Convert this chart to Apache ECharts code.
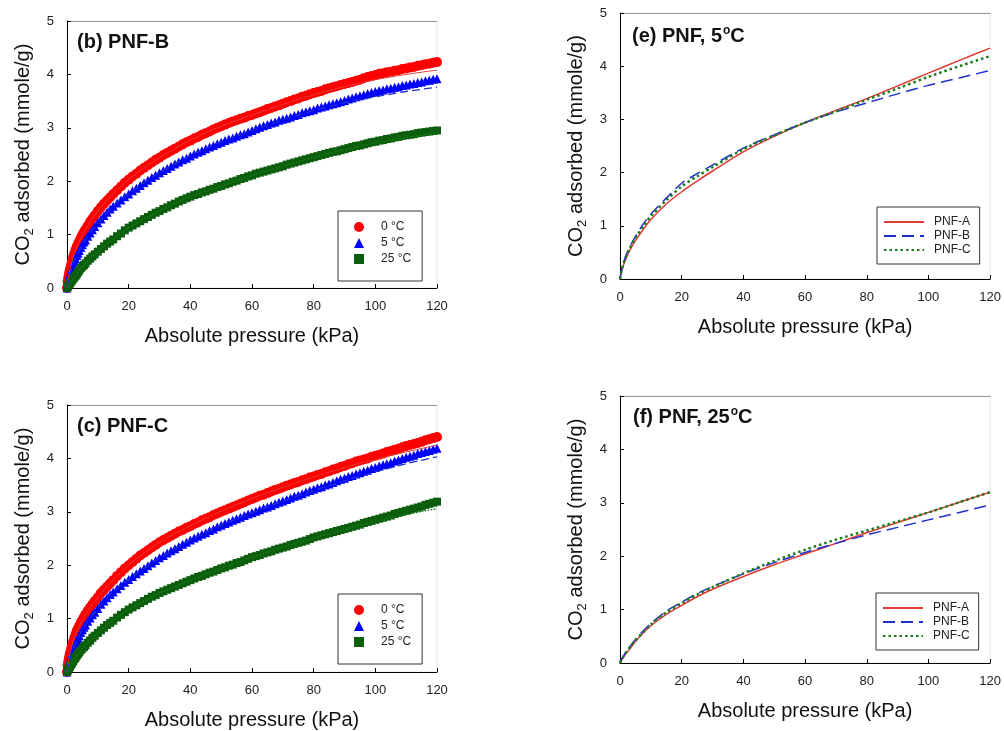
<!DOCTYPE html>
<html>
<head>
<meta charset="utf-8">
<script src="https://cdn.jsdelivr.net/npm/echarts@6/dist/echarts.min.js"></script>
<style>
html,body{margin:0;padding:0;background:#fff;}
#chart{width:1004px;height:731px;}
</style>
</head>
<body>
<div id="chart"></div>
<script>
// Pressure points (kPa) for measured isotherms
const P = [0,0.2,0.4,0.6,0.8,1,1.3,1.6,2,2.4,2.8,3.2,3.6,4,4.5,5,5.5,6,6.75,7.5,8.25,9,10,11,12,13,14,15,16.25,17.5,18.75,
  20,21.25,22.5,23.75,25,26.25,27.5,28.75, 30,31.25,32.5,33.75,35,36.25,37.5,38.75,
  40,41.25,42.5,43.75,45,46.25,47.5,48.75, 50,51.25,52.5,53.75,55,56.25,57.5,58.75,
  60,61.25,62.5,63.75,65,66.25,67.5,68.75, 70,71.25,72.5,73.75,75,76.25,77.5,78.75,
  80,81.25,82.5,83.75,85,86.25,87.5,88.75, 90,91.25,92.5,93.75,95,96.25,97.5,98.75,
  100,101.25,102.5,103.75,105,106.25,107.5,108.75, 110,111.25,112.5,113.75,115,116.25,117.5,118.75, 120];

// (b) PNF-B measured (mmole/g)
const bRed = [0,0.12,0.19,0.25,0.31,0.36,0.43,0.49,0.58,0.65,0.72,0.78,0.83,0.88,0.94,1.0,1.05,1.10,1.17,1.24,1.30,1.36,1.44,1.51,1.58,1.64,1.70,1.76,1.83,1.90,1.97,
  2.03,2.09,2.14,2.20,2.25,2.30,2.35,2.40, 2.44,2.49,2.53,2.57,2.61,2.65,2.69,2.73,
  2.76,2.80,2.83,2.87,2.90,2.93,2.97,3.00, 3.03,3.06,3.09,3.12,3.14,3.17,3.19,3.22,
  3.24,3.27,3.29,3.32,3.35,3.37,3.40,3.42, 3.45,3.48,3.50,3.53,3.55,3.58,3.60,3.63,
  3.65,3.67,3.69,3.72,3.74,3.76,3.78,3.80, 3.82,3.84,3.86,3.88,3.90,3.93,3.95,3.97,
  3.99,4.01,4.02,4.04,4.05,4.07,4.08,4.10, 4.11,4.13,4.14,4.16,4.17,4.19,4.20,4.22, 4.23];
const bBlue = [0,0.07,0.13,0.17,0.22,0.26,0.31,0.36,0.44,0.50,0.55,0.61,0.65,0.70,0.76,0.81,0.86,0.90,0.97,1.03,1.09,1.15,1.22,1.29,1.36,1.42,1.48,1.53,1.59,1.65,1.71,
  1.76,1.82,1.87,1.92,1.97,2.02,2.07,2.11, 2.16,2.20,2.24,2.28,2.32,2.36,2.40,2.43,
  2.47,2.51,2.54,2.57,2.61,2.64,2.67,2.70, 2.73,2.76,2.79,2.81,2.84,2.87,2.89,2.92,
  2.95,2.98,3.01,3.04,3.06,3.09,3.11,3.14, 3.16,3.18,3.20,3.23,3.25,3.28,3.30,3.32,
  3.34,3.37,3.39,3.41,3.43,3.45,3.47,3.49, 3.51,3.54,3.56,3.58,3.60,3.62,3.64,3.66,
  3.68,3.70,3.71,3.73,3.74,3.76,3.77,3.79, 3.80,3.82,3.83,3.85,3.86,3.88,3.89,3.91, 3.92];
const bGreen = [0,0.02,0.04,0.06,0.07,0.09,0.12,0.14,0.17,0.20,0.23,0.26,0.30,0.33,0.37,0.40,0.43,0.46,0.51,0.55,0.59,0.63,0.68,0.73,0.78,0.83,0.87,0.91,0.97,1.02,1.08,
  1.13,1.17,1.21,1.25,1.29,1.33,1.37,1.41, 1.44,1.48,1.51,1.55,1.58,1.62,1.65,1.68,
  1.71,1.74,1.76,1.79,1.81,1.84,1.86,1.89, 1.91,1.94,1.96,1.99,2.01,2.04,2.06,2.09,
  2.11,2.14,2.16,2.18,2.20,2.22,2.24,2.26, 2.28,2.31,2.33,2.35,2.37,2.39,2.41,2.43,
  2.45,2.47,2.49,2.51,2.53,2.55,2.56,2.58, 2.60,2.62,2.64,2.66,2.67,2.69,2.71,2.73,
  2.74,2.76,2.77,2.79,2.80,2.82,2.83,2.85, 2.86,2.87,2.88,2.90,2.91,2.92,2.93,2.94, 2.95];

// (c) PNF-C measured (mmole/g)
const cRed = [0,0.12,0.19,0.25,0.31,0.36,0.43,0.49,0.57,0.64,0.71,0.77,0.82,0.87,0.93,0.98,1.03,1.08,1.15,1.21,1.27,1.33,1.40,1.48,1.54,1.60,1.66,1.72,1.80,1.87,1.94,
  2.00,2.06,2.12,2.18,2.23,2.28,2.33,2.38, 2.43,2.47,2.51,2.55,2.59,2.63,2.66,2.70,
  2.73,2.77,2.80,2.84,2.87,2.90,2.94,2.97, 3.00,3.03,3.06,3.09,3.12,3.15,3.18,3.21,
  3.24,3.27,3.30,3.32,3.35,3.38,3.41,3.43, 3.46,3.49,3.51,3.54,3.56,3.59,3.61,3.64,
  3.66,3.69,3.71,3.74,3.76,3.79,3.81,3.84, 3.86,3.89,3.91,3.94,3.96,3.98,4.00,4.03,
  4.05,4.07,4.09,4.12,4.14,4.16,4.18,4.21, 4.23,4.25,4.27,4.29,4.31,4.34,4.36,4.38, 4.40];
const cBlue = [0,0.06,0.12,0.16,0.20,0.24,0.30,0.35,0.42,0.48,0.53,0.59,0.63,0.68,0.74,0.79,0.84,0.88,0.95,1.01,1.07,1.12,1.19,1.27,1.33,1.39,1.45,1.50,1.56,1.62,1.68,
  1.73,1.79,1.84,1.89,1.94,1.99,2.04,2.09, 2.14,2.18,2.23,2.27,2.31,2.35,2.39,2.43,
  2.47,2.51,2.54,2.58,2.61,2.65,2.68,2.72, 2.75,2.78,2.81,2.84,2.87,2.90,2.93,2.96,
  2.98,3.01,3.04,3.07,3.09,3.12,3.15,3.18, 3.20,3.23,3.26,3.29,3.31,3.34,3.37,3.40,
  3.42,3.45,3.47,3.50,3.52,3.55,3.58,3.61, 3.63,3.66,3.68,3.71,3.73,3.76,3.78,3.81,
  3.83,3.86,3.88,3.90,3.92,3.95,3.97,4.00, 4.02,4.04,4.06,4.09,4.11,4.13,4.15,4.17, 4.19];
const cGreen = [0,0.03,0.05,0.07,0.09,0.11,0.14,0.16,0.20,0.24,0.27,0.31,0.34,0.37,0.41,0.44,0.47,0.50,0.55,0.59,0.64,0.68,0.73,0.78,0.83,0.88,0.92,0.96,1.02,1.07,1.12,
  1.17,1.21,1.25,1.29,1.33,1.37,1.41,1.44, 1.48,1.51,1.54,1.57,1.60,1.63,1.66,1.69,
  1.72,1.75,1.78,1.80,1.83,1.86,1.88,1.91, 1.94,1.96,1.99,2.01,2.04,2.06,2.09,2.12,
  2.15,2.17,2.19,2.22,2.24,2.26,2.29,2.31, 2.33,2.35,2.38,2.40,2.42,2.44,2.46,2.49,
  2.52,2.54,2.56,2.58,2.60,2.62,2.64,2.66, 2.68,2.70,2.72,2.74,2.76,2.79,2.81,2.83,
  2.85,2.87,2.89,2.91,2.93,2.96,2.98,3.00, 3.02,3.04,3.06,3.08,3.10,3.13,3.15,3.17, 3.19];

// Pressure points (kPa) for fitted curves
const FP = [0,0.5,1,2,3,5,7.5,10,15,20,25,30,40,50,60,70,80,90,100,110,120];

const bFitRed   = [0,0.22,0.36,0.58,0.75,1.0,1.24,1.44,1.77,2.03,2.25,2.44,2.77,3.03,3.24,3.44,3.62,3.77,3.90,4.00,4.08];
const bFitBlue  = [0,0.15,0.26,0.44,0.58,0.81,1.03,1.21,1.54,1.76,1.97,2.16,2.48,2.74,2.95,3.15,3.32,3.47,3.58,3.68,3.76];
const bFitGreen = [0,0.05,0.09,0.17,0.25,0.40,0.55,0.68,0.92,1.13,1.29,1.44,1.71,1.91,2.11,2.28,2.45,2.59,2.72,2.82,2.90];
const cFitRed   = [0,0.22,0.36,0.57,0.74,0.98,1.21,1.40,1.73,2.00,2.23,2.43,2.74,3.01,3.25,3.46,3.65,3.83,3.98,4.12,4.25];
const cFitBlue  = [0,0.14,0.24,0.42,0.56,0.79,1.01,1.19,1.51,1.73,1.94,2.13,2.47,2.75,2.98,3.20,3.40,3.58,3.75,3.90,4.03];
const cFitGreen = [0,0.06,0.11,0.20,0.29,0.44,0.59,0.73,0.97,1.17,1.33,1.48,1.72,1.94,2.15,2.34,2.51,2.67,2.82,2.95,3.06];

// (e) PNF, 5 °C fits
const eA = [0,0.14,0.24,0.39,0.52,0.72,0.93,1.12,1.41,1.64,1.84,2.03,2.39,2.68,2.94,3.17,3.39,3.63,3.87,4.11,4.34];
const eB = [0,0.17,0.28,0.45,0.58,0.80,1.03,1.22,1.52,1.80,1.98,2.14,2.46,2.71,2.94,3.14,3.31,3.48,3.64,3.78,3.92];
const eC = [0,0.16,0.27,0.43,0.56,0.77,0.99,1.18,1.48,1.74,1.93,2.10,2.44,2.70,2.94,3.15,3.37,3.58,3.80,4.00,4.19];

// (f) PNF, 25 °C fits
const fA = [0,0.05,0.10,0.18,0.25,0.40,0.56,0.70,0.91,1.08,1.24,1.38,1.62,1.84,2.04,2.24,2.44,2.63,2.82,3.01,3.20];
const fB = [0,0.07,0.12,0.21,0.29,0.44,0.60,0.74,0.97,1.14,1.30,1.43,1.67,1.88,2.07,2.24,2.40,2.54,2.68,2.82,2.96];
const fC = [0,0.06,0.11,0.20,0.28,0.42,0.58,0.72,0.95,1.12,1.28,1.42,1.68,1.91,2.12,2.31,2.48,2.65,2.82,3.01,3.20];

const tempNames = ['0 °C','5 °C','25 °C'];
const fitNames = ['PNF-A','PNF-B','PNF-C'];

const FONT = '"Liberation Sans", Arial, Helvetica, sans-serif';
const RED = '#ff0000', BLUE = '#0000ff', GREEN = '#0b5e0b';
const LRED = '#e03a34', LBLUE = '#1f30d0', LGREEN = '#1a7a1a';

const grids = [
  {left:67, top:21, width:370, height:267},
  {left:67, top:405, width:370, height:267},
  {left:620, top:13, width:371, height:266},
  {left:620, top:396, width:371, height:267}
];

const pair = (xs, ys) => xs.map((x,i)=>[x, ys[i]]);

function scatter(name, ys, gi, symbol, size, color){
  return {type:'scatter', name, xAxisIndex:gi, yAxisIndex:gi, data:pair(P, ys),
    symbol, symbolSize:size, itemStyle:{color, opacity:1}, silent:true, large:false};
}
function line(name, ys, gi, color, type, width){
  return {type:'line', name, xAxisIndex:gi, yAxisIndex:gi, data:pair(FP, ys),
    symbol:'none', smooth:0.3, lineStyle:{color, type, width}, itemStyle:{color}, silent:true, z:3};
}

const xAxes = [], yAxes = [];
grids.forEach((g, i) => {
  xAxes.push({
    gridIndex:i, type:'value', position:'bottom', min:0, max:120, interval:20,
    name:'Absolute pressure (kPa)', nameLocation:'middle', nameGap:38,
    nameTextStyle:{fontSize:20, color:'#111', fontFamily:FONT},
    axisLine:{show:true, onZero:false, lineStyle:{color:'#000', width:1}},
    axisTick:{show:true, inside:true, length:4, lineStyle:{color:'#000'}},
    axisLabel:{fontSize:13, color:'#222', margin:12, fontFamily:FONT},
    splitLine:{show:false}
  });
  yAxes.push({
    gridIndex:i, type:'value', position:'left', min:0, max:5, interval:1,
    name:'{a|CO}{s|2}{a| adsorbed (mmole/g)}', nameLocation:'middle', nameGap:31,
    nameTextStyle:{fontFamily:FONT, rich:{
      a:{fontSize:20, lineHeight:26, color:'#111', fontFamily:FONT},
      s:{fontSize:13, lineHeight:13, verticalAlign:'bottom', color:'#111', fontFamily:FONT}
    }},
    axisLine:{show:true, onZero:false, lineStyle:{color:'#000', width:1}},
    axisTick:{show:true, inside:true, length:4, lineStyle:{color:'#000'}},
    axisLabel:{fontSize:13, color:'#222', margin:13, fontFamily:FONT},
    splitLine:{show:false}
  });
});
grids.forEach((g, i) => {
  xAxes.push({
    gridIndex:i, type:'value', position:'top', min:0, max:120,
    axisLine:{show:true, onZero:false, lineStyle:{color:'#999', width:1}},
    axisTick:{show:false}, axisLabel:{show:false}, splitLine:{show:false}
  });
});

const series = [
  scatter(tempNames[0], bRed, 0, 'circle', 10, RED),
  scatter(tempNames[1], bBlue, 0, 'triangle', 9, BLUE),
  scatter(tempNames[2], bGreen, 0, 'rect', 8, GREEN),
  line('b-fit-0', bFitRed, 0, LRED, 'solid', 1),
  line('b-fit-5', bFitBlue, 0, LBLUE, [8,4], 1.3),
  line('b-fit-25', bFitGreen, 0, LGREEN, 'dotted', 1.5),

  scatter(tempNames[0], cRed, 1, 'circle', 10, RED),
  scatter(tempNames[1], cBlue, 1, 'triangle', 9, BLUE),
  scatter(tempNames[2], cGreen, 1, 'rect', 8, GREEN),
  line('c-fit-0', cFitRed, 1, LRED, 'solid', 1),
  line('c-fit-5', cFitBlue, 1, LBLUE, [8,4], 1.3),
  line('c-fit-25', cFitGreen, 1, LGREEN, 'dotted', 1.5),

  line(fitNames[0], eA, 2, LRED, 'solid', 1.5),
  line(fitNames[1], eB, 2, LBLUE, [12,6], 1.5),
  line(fitNames[2], eC, 2, LGREEN, [2.5,3], 2.5),

  line(fitNames[0], fA, 3, LRED, 'solid', 1.5),
  line(fitNames[1], fB, 3, LBLUE, [12,6], 1.5),
  line(fitNames[2], fC, 3, LGREEN, [2.5,3], 2.5)
];

const legTemp = (top) => ({
  left:338, top, orient:'vertical', data:tempNames, selectedMode:false,
  itemWidth:10, itemHeight:10, itemGap:4, padding:[10,11,16,16],
  borderColor:'#333', borderWidth:1, borderRadius:0, backgroundColor:'#fff',
  textStyle:{fontSize:12, color:'#222', fontFamily:FONT, padding:[0,0,0,12]}
});
const legFit = (left, top) => ({
  left, top, orient:'vertical', data:fitNames, selectedMode:false,
  itemWidth:40, itemHeight:10, itemGap:2, padding:[9,9,8,6],
  itemStyle:{opacity:0},
  borderColor:'#333', borderWidth:1, borderRadius:0, backgroundColor:'#fff',
  textStyle:{fontSize:12, color:'#222', fontFamily:FONT, padding:[0,0,0,5]}
});

const titleRich = {
  a:{fontSize:20, fontWeight:'bold', lineHeight:24, color:'#111', fontFamily:FONT},
  s:{fontSize:12, fontWeight:'bold', lineHeight:12, verticalAlign:'top', padding:[1,0,0,1], color:'#111', fontFamily:FONT}
};
const titles = [
  {text:'{a|(b) PNF-B}', left:77, top:30},
  {text:'{a|(c) PNF-C}', left:77, top:414},
  {text:'{a|(e) PNF, 5}{s|o}{a|C}', left:632, top:24},
  {text:'{a|(f) PNF, 25}{s|o}{a|C}', left:633, top:405}
].map(t => Object.assign(t, {padding:0, textStyle:{rich:titleRich, fontFamily:FONT}}));

const chart = echarts.init(document.getElementById('chart'), null, {renderer:'canvas'});
chart.setOption({
  animation:false,
  backgroundColor:'#fff',
  title: titles,
  grid: grids.map(g => Object.assign({show:true, borderColor:'#e8e8e8', borderWidth:1, backgroundColor:'transparent'}, g)),
  xAxis: xAxes,
  yAxis: yAxes,
  legend: [legTemp(211), legTemp(594), legFit(877, 207), legFit(876, 593)],
  series
});
</script>
</body>
</html>
